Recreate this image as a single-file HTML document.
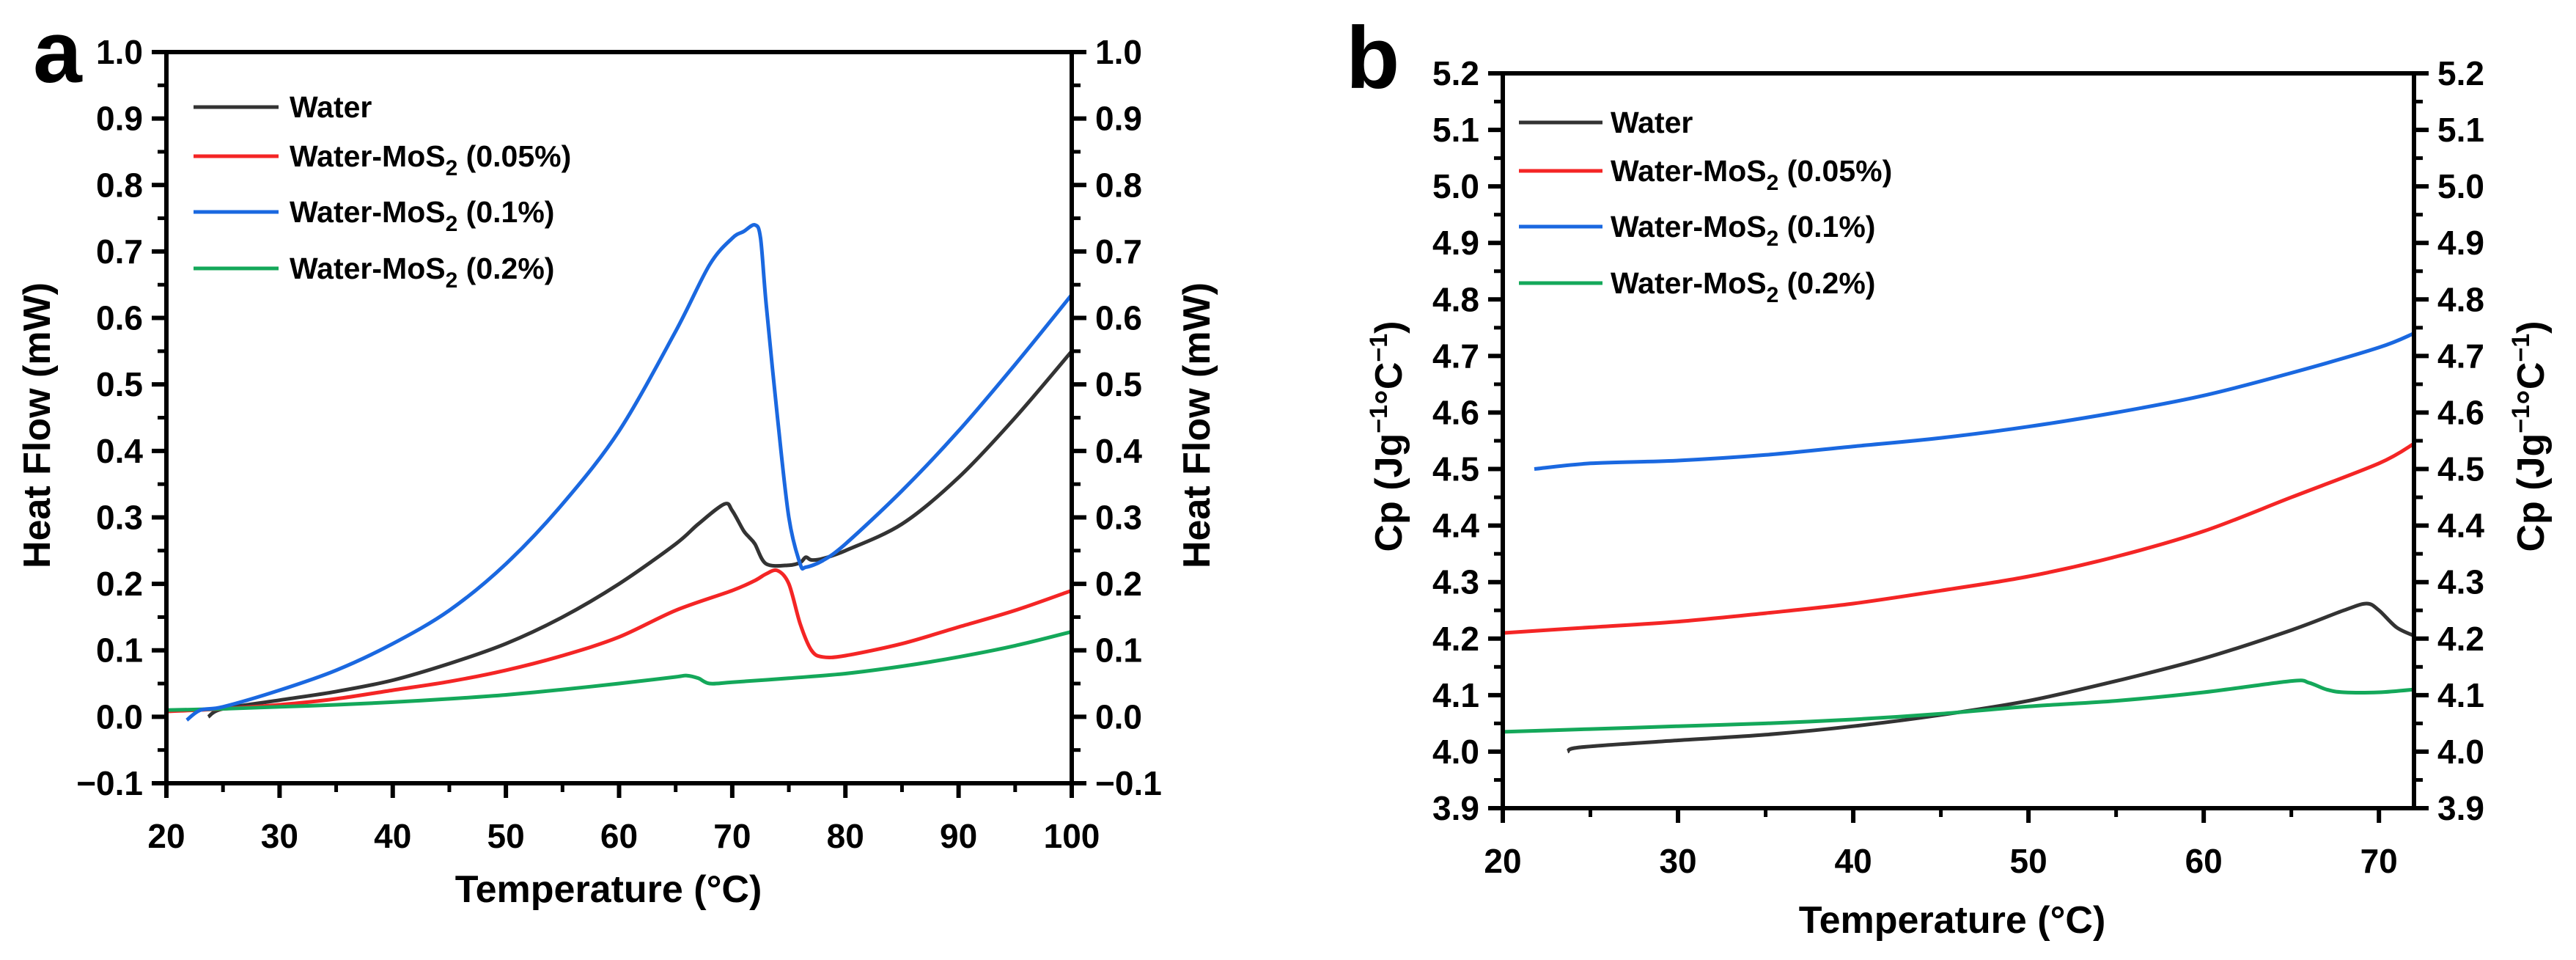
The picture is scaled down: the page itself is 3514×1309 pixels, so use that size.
<!DOCTYPE html>
<html><head><meta charset="utf-8"><style>
html,body{margin:0;padding:0;background:#fff;}
svg{display:block;font-family:"Liberation Sans",sans-serif;font-weight:bold;}
</style></head><body>
<svg id="fig" width="3514" height="1309" viewBox="0 0 3514 1309"></svg>
<script>
// ---- Panel a data ----
const aWaterX=[23.7,25,30,35,40,45,50,55,60,65,67,69.3,70,71,71.5,72,73,75,76,76.5,77,78,80,85,90,95,100];
const aWaterY=[0.0,0.012,0.025,0.038,0.055,0.08,0.11,0.15,0.2,0.26,0.29,0.32,0.31,0.28,0.27,0.26,0.23,0.228,0.232,0.24,0.236,0.238,0.25,0.29,0.36,0.45,0.55];
const aRedX=[20,25,30,35,40,45,50,55,60,65,70,72,73,74,75,76,77,78,80,85,90,95,100];
const aRedY=[0.008,0.012,0.018,0.027,0.04,0.053,0.07,0.092,0.12,0.16,0.19,0.205,0.215,0.22,0.2,0.14,0.1,0.09,0.092,0.11,0.135,0.16,0.19];
const aBlueX=[21.8,23,25,30,35,40,45,50,55,60,65,68,70,71,72,72.5,73,74,75,76,76.5,78,80,85,90,95,100];
const aBlueY=[-0.005,0.01,0.015,0.04,0.07,0.11,0.16,0.23,0.32,0.43,0.58,0.68,0.72,0.73,0.74,0.72,0.62,0.45,0.3,0.23,0.225,0.235,0.26,0.34,0.43,0.53,0.635];
const aGreenX=[20,25,30,35,40,45,50,55,60,65,66,67,68,70,75,80,85,90,95,100];
const aGreenY=[0.01,0.012,0.015,0.018,0.022,0.027,0.033,0.041,0.05,0.06,0.062,0.058,0.05,0.052,0.058,0.065,0.076,0.09,0.107,0.128];
// ---- Panel b data ----
const bBlueX=[21.8,25,30,35,40,45,50,55,60,65,70,72];
const bBlueY=[4.50,4.51,4.515,4.525,4.54,4.555,4.575,4.60,4.63,4.67,4.715,4.74];
const bRedX=[20,25,30,35,40,45,50,55,60,65,70,72];
const bRedY=[4.21,4.22,4.23,4.245,4.262,4.285,4.31,4.345,4.39,4.45,4.51,4.545];
const bWaterX=[23.7,24.5,30,35,40,45,50,55,60,65,68,69.3,70,71,72];
const bWaterY=[4.0,4.008,4.02,4.03,4.045,4.065,4.09,4.125,4.165,4.215,4.25,4.262,4.25,4.22,4.205];
const bGreenX=[20,25,30,35,40,45,50,55,60,65,66,67,68,70,72];
const bGreenY=[4.035,4.04,4.045,4.05,4.057,4.067,4.08,4.09,4.105,4.125,4.122,4.11,4.105,4.105,4.11];
const aXTicks=[20,30,40,50,60,70,80,90,100];
const aYTicks=[-0.1,0,0.1,0.2,0.3,0.4,0.5,0.6,0.7,0.8,0.9,1.0];
const bXTicks=[20,30,40,50,60,70];
const bYTicks=[3.9,4.0,4.1,4.2,4.3,4.4,4.5,4.6,4.7,4.8,4.9,5.0,5.1,5.2];
const legendLabels=["Water","Water-MoS|2| (0.05%)","Water-MoS|2| (0.1%)","Water-MoS|2| (0.2%)"];

const NS="http://www.w3.org/2000/svg";
const svg=document.getElementById('fig');
function el(tag,attrs,parent){const e=document.createElementNS(NS,tag);for(const k in attrs)e.setAttribute(k,attrs[k]);(parent||svg).appendChild(e);return e;}
const COL={black:"#333333",red:"#f42525",blue:"#1a68e0",green:"#14a85a"};

function smoothPath(P){
  let d='M'+P[0][0].toFixed(1)+' '+P[0][1].toFixed(1);
  for(let i=0;i<P.length-1;i++){
    const p0=P[Math.max(0,i-1)],p1=P[i],p2=P[i+1],p3=P[Math.min(P.length-1,i+2)];
    const t=0.16;
    const c1=[p1[0]+(p2[0]-p0[0])*t,p1[1]+(p2[1]-p0[1])*t];
    const c2=[p2[0]-(p3[0]-p1[0])*t,p2[1]-(p3[1]-p1[1])*t];
    d+='C'+c1[0].toFixed(1)+' '+c1[1].toFixed(1)+' '+c2[0].toFixed(1)+' '+c2[1].toFixed(1)+' '+p2[0].toFixed(1)+' '+p2[1].toFixed(1);
  }
  return d;
}

function panel(cfg){
  const g=el('g',{});
  
  
  const sx=v=>cfg.L+(v-cfg.x0)/(cfg.x1-cfg.x0)*(cfg.R-cfg.L);
  const sy=v=>cfg.B-(v-cfg.y0)/(cfg.y1-cfg.y0)*(cfg.B-cfg.T);
  cfg.series.forEach(s=>{
    const pts=s.x.map((x,i)=>[sx(x),sy(s.y[i])]);
    const p=el('path',{d:smoothPath(pts),fill:'none',stroke:s.c,'stroke-width':5,'stroke-linejoin':'round'},g);
    
    
  });
  const fr=el('rect',{x:cfg.L,y:cfg.T,width:cfg.R-cfg.L,height:cfg.B-cfg.T,fill:'none',stroke:'#000','stroke-width':6},g);
  
  
  cfg.xt.forEach((v,i)=>{
    const x=sx(v);
    el('line',{x1:x,x2:x,y1:cfg.B,y2:cfg.B+20,stroke:'#000','stroke-width':6},g);
    if(i<cfg.xt.length-1||cfg.xMinorLast){const xm=sx(v+cfg.xstep/2);if(xm<=cfg.R+1)el('line',{x1:xm,x2:xm,y1:cfg.B,y2:cfg.B+12,stroke:'#000','stroke-width':5},g);}
    const t=el('text',{x:x,y:cfg.B+88,'font-size':46,'text-anchor':'middle'},g);t.textContent=v;
    
    
  });
  cfg.yt.forEach((v,i)=>{
    const y=sy(v);
    el('line',{x1:cfg.L-20,x2:cfg.L,y1:y,y2:y,stroke:'#000','stroke-width':6},g);
    el('line',{x1:cfg.R,x2:cfg.R+20,y1:y,y2:y,stroke:'#000','stroke-width':6},g);
    if(i<cfg.yt.length-1){const ym=sy(v+cfg.ystep/2);
      el('line',{x1:cfg.L-12,x2:cfg.L,y1:ym,y2:ym,stroke:'#000','stroke-width':5},g);
      el('line',{x1:cfg.R,x2:cfg.R+12,y1:ym,y2:ym,stroke:'#000','stroke-width':5},g);}
    const lab=(v<0?'\u2212':'')+Math.abs(v).toFixed(1);
    const t1=el('text',{x:cfg.L-32,y:y+16,'font-size':46,'text-anchor':'end'},g);t1.textContent=lab;
    
    
    const t2=el('text',{x:cfg.R+32,y:y+16,'font-size':46,'text-anchor':'start'},g);t2.textContent=lab;
    
    
  });
  const cols=[COL.black,COL.red,COL.blue,COL.green];
  legendLabels.forEach((lb,i)=>{
    const by=cfg.legY[i];
    const ln=el('line',{x1:cfg.legX0,x2:cfg.legX1,y1:by-14,y2:by-14,stroke:cols[i],'stroke-width':5},g);
    
    
    const t=el('text',{x:cfg.legTX,y:by,'font-size':41},g);
    
    
    const parts=lb.split('|');
    parts.forEach((p,k)=>{const ts=el('tspan',{},t);ts.textContent=p;
      if(k===1){ts.setAttribute('font-size','30');ts.setAttribute('dy','12');}
      if(k===2){ts.setAttribute('dy','-12');}});
  });
  const xt=el('text',{x:cfg.xtX,y:cfg.xtY,'font-size':52,'text-anchor':'middle'},g);xt.textContent='Temperature (\u00B0C)';
  
  
  [cfg.ytXL,cfg.ytXR].forEach((xx,k)=>{
    const t=el('text',{x:xx,y:cfg.ytY,'font-size':52,'text-anchor':'middle',transform:`rotate(-90 ${xx} ${cfg.ytY})`},g);
    
    
    if(cfg.cp){t.innerHTML='Cp (Jg<tspan font-size="34" dy="-20">\u22121</tspan><tspan dy="20">\u00B0C</tspan><tspan font-size="34" dy="-20">\u22121</tspan><tspan dy="20">)</tspan>';}
    else t.textContent='Heat Flow (mW)';
  });
  const pl=el('text',{x:cfg.plX,y:cfg.plY,'font-size':120},g);pl.textContent=cfg.letter;
  
  
}

panel({name:'panel-a-heat-flow',L:227,R:1462,T:71,B:1068,x0:20,x1:100,y0:-0.1,y1:1.0,xt:aXTicks,yt:aYTicks,xstep:10,ystep:0.1,
  series:[{x:aWaterX,y:aWaterY,c:COL.black,n:'line-water'},{x:aRedX,y:aRedY,c:COL.red,n:'line-mos2-005'},{x:aGreenX,y:aGreenY,c:COL.green,n:'line-mos2-02'},{x:aBlueX,y:aBlueY,c:COL.blue,n:'line-mos2-01'}],
  legX0:264,legX1:380,legTX:395,legY:[160,227,303,380],
  xtX:830,xtY:1230,ytXL:68,ytXR:1650,ytY:580,plX:45,plY:112,letter:'a'});
panel({name:'panel-b-cp',L:2050,R:3293,T:100,B:1102,x0:20,x1:72,y0:3.9,y1:5.2,xt:bXTicks,yt:bYTicks,xstep:10,ystep:0.1,
  series:[{x:bWaterX,y:bWaterY,c:COL.black,n:'line-water'},{x:bRedX,y:bRedY,c:COL.red,n:'line-mos2-005'},{x:bGreenX,y:bGreenY,c:COL.green,n:'line-mos2-02'},{x:bBlueX,y:bBlueY,c:COL.blue,n:'line-mos2-01'}],
  legX0:2072,legX1:2186,legTX:2197,legY:[181,247,323,400],xMinorLast:true,
  xtX:2663,xtY:1272,ytXL:1912,ytXR:3470,ytY:595,plX:1836,plY:120,letter:'b',cp:true});
</script>
</body></html>
